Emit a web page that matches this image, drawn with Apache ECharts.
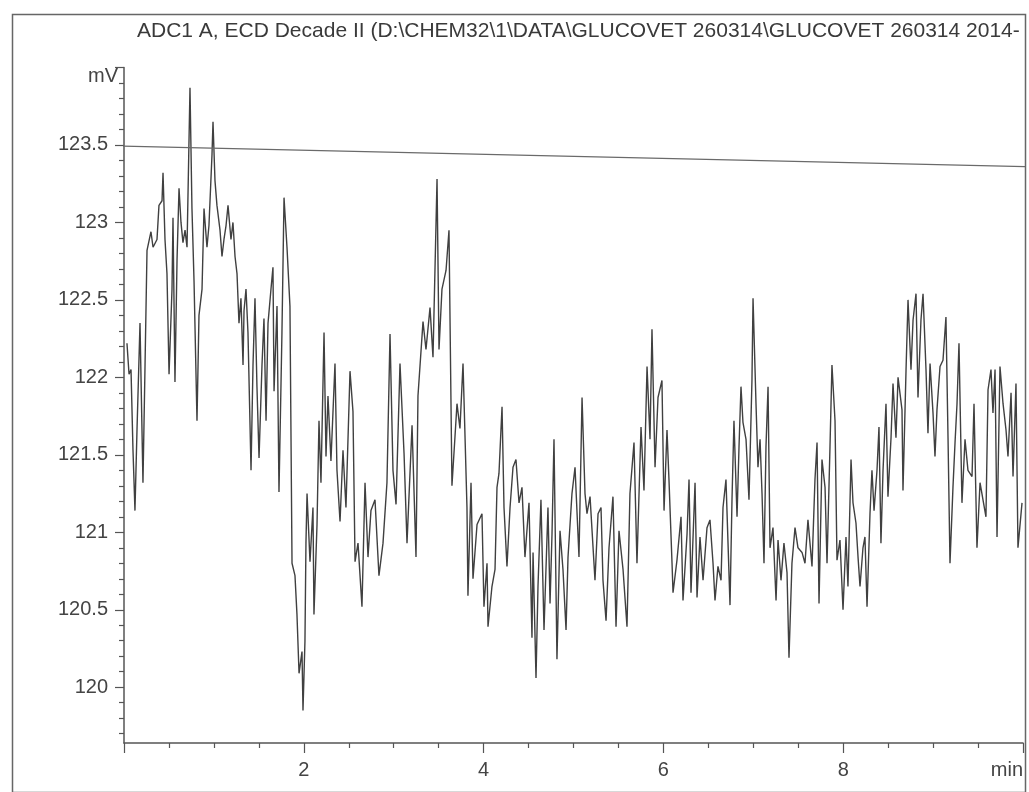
<!DOCTYPE html>
<html><head><meta charset="utf-8">
<script src="https://cdn.jsdelivr.net/npm/echarts@6/dist/echarts.min.js"></script>
<style>html,body{margin:0;padding:0;background:#fff}#c{width:1029px;height:792px}</style>
</head><body><div id="c"></div>
<script>
const titleText = 'ADC1 A, ECD Decade II (D:\\CHEM32\\1\\DATA\\GLUCOVET 260314\\GLUCOVET 260314 2014-';
const yUnit = 'mV';
const xUnit = 'min';
const yLabelValues = [120, 120.5, 121, 121.5, 122, 122.5, 123, 123.5];
const yMajorTicks = [120, 120.5, 121, 121.5, 122, 122.5, 123, 123.5, 124];
const timeMin = [0.033,0.056,0.078,0.100,0.122,0.145,0.178,0.211,0.234,0.256,0.300,0.323,0.367,0.389,0.423,0.434,0.456,0.478,0.501,0.534,0.545,0.567,0.590,0.612,0.634,0.656,0.679,0.701,0.734,0.756,0.779,0.812,0.834,0.868,0.890,0.923,0.945,0.979,0.990,1.012,1.034,1.068,1.090,1.112,1.135,1.157,1.190,1.212,1.235,1.257,1.279,1.301,1.324,1.335,1.357,1.379,1.413,1.435,1.457,1.479,1.502,1.535,1.557,1.580,1.602,1.635,1.657,1.669,1.702,1.724,1.757,1.780,1.813,1.846,1.869,1.902,1.924,1.947,1.980,1.991,
2.013,2.024,2.036,2.069,2.102,2.113,2.147,2.169,2.191,2.225,2.247,2.269,2.302,2.347,2.369,2.403,2.436,2.469,2.514,2.547,2.570,2.603,2.647,2.681,2.714,2.747,2.792,2.836,2.881,2.925,2.959,2.992,3.026,3.070,3.115,3.148,3.204,3.248,3.270,3.326,3.359,3.404,3.437,3.482,3.504,3.537,3.582,3.615,3.648,3.682,3.704,3.737,3.771,3.815,3.826,3.860,3.882,3.927,3.982,4.004,
4.038,4.049,4.093,4.127,4.149,4.171,4.205,4.227,4.260,4.294,4.327,4.360,4.394,4.427,4.460,4.505,4.538,4.550,4.583,4.605,4.638,4.672,4.716,4.739,4.761,4.783,4.816,4.850,4.883,4.917,4.939,4.983,5.017,5.061,5.095,5.128,5.150,5.184,5.239,5.273,5.306,5.328,5.362,5.395,5.439,5.473,5.506,5.551,5.595,5.628,5.673,5.706,5.751,5.784,5.818,5.851,5.873,5.907,5.940,5.984,6.007,
6.040,6.062,6.096,6.107,6.151,6.196,6.218,6.263,6.285,6.307,6.352,6.374,6.407,6.441,6.485,6.518,6.552,6.574,6.607,6.641,6.663,6.696,6.741,6.763,6.785,6.819,6.841,6.863,6.885,6.919,6.952,6.985,6.997,7.030,7.052,7.075,7.097,7.119,7.141,7.164,7.186,7.219,7.253,7.275,7.308,7.341,7.375,7.397,7.430,7.464,7.497,7.542,7.575,7.608,7.653,7.686,7.709,7.731,7.764,7.798,7.820,7.853,7.875,7.909,7.931,7.964,
7.998,8.031,8.053,8.087,8.109,8.142,8.165,8.187,8.220,8.242,8.265,8.298,8.320,8.343,8.376,8.398,8.420,8.443,8.476,8.498,8.532,8.554,8.587,8.610,8.654,8.665,8.699,8.721,8.754,8.777,8.810,8.832,8.865,8.888,8.921,8.943,8.966,8.999,9.021,9.043,9.077,9.110,9.143,9.166,9.188,9.221,9.244,9.266,9.288,9.321,9.355,9.388,9.433,9.455,9.488,9.522,9.555,9.588,9.611,9.644,9.666,9.689,9.711,9.744,9.778,9.811,9.833,9.867,9.889,9.922,9.944,9.989];
const signalMV = [122.22,122.02,122.05,121.53,121.14,121.67,122.35,121.32,122.08,122.82,122.94,122.84,122.89,123.11,123.14,123.32,122.89,122.67,122.02,122.57,123.03,121.97,122.76,123.22,123.00,122.87,122.95,122.84,123.87,123.09,122.62,121.72,122.40,122.57,123.09,122.84,122.98,123.44,123.65,123.27,123.11,122.95,122.78,122.89,122.98,123.11,122.89,123.00,122.78,122.67,122.35,122.51,122.08,122.43,122.57,122.29,121.40,122.08,122.51,121.94,121.48,122.08,122.38,121.72,122.35,122.57,122.71,121.91,122.46,121.26,122.29,123.16,122.84,122.46,120.80,120.72,120.47,120.09,120.23,119.85,
120.30,120.93,121.25,120.81,121.16,120.47,121.05,121.72,121.32,122.29,121.49,121.88,121.46,122.09,121.40,121.07,121.53,121.16,122.04,121.78,120.81,120.93,120.52,121.32,120.84,121.14,121.21,120.72,120.93,121.32,122.28,121.40,121.18,122.09,121.51,120.93,121.69,120.84,121.88,122.36,122.18,122.45,122.13,123.28,122.18,122.57,122.69,122.95,121.30,121.62,121.83,121.67,122.09,121.16,120.59,121.32,120.70,121.05,121.12,120.52,
120.80,120.39,120.65,120.76,121.29,121.38,121.81,121.16,120.78,121.16,121.42,121.47,121.19,121.29,120.84,121.19,120.32,120.87,120.06,120.65,121.21,120.37,121.16,120.54,120.99,121.60,120.18,121.01,120.76,120.37,120.84,121.25,121.42,120.84,121.87,121.25,121.12,121.23,120.69,121.12,121.16,120.69,120.43,120.90,121.23,120.39,121.01,120.76,120.39,121.25,121.58,120.80,121.68,121.27,122.07,121.60,122.31,121.42,121.87,121.98,121.14,
121.66,121.34,120.80,120.61,120.82,121.10,120.56,120.99,121.34,120.61,121.32,120.58,120.97,120.69,121.03,121.08,120.80,120.56,120.78,120.69,121.16,121.34,120.53,121.21,121.72,121.10,121.55,121.94,121.71,121.60,121.21,121.98,122.51,121.83,121.42,121.60,121.25,120.80,121.55,121.94,120.90,121.03,120.56,120.95,120.69,120.93,120.74,120.19,120.80,121.03,120.90,120.87,120.80,121.08,120.78,121.34,121.58,120.54,121.47,121.29,120.80,121.55,122.08,121.72,120.82,120.95,
120.50,120.97,120.65,121.47,121.19,121.06,120.84,120.65,120.90,120.97,120.52,121.12,121.40,121.14,121.40,121.68,120.93,121.40,121.83,121.23,121.61,121.96,121.61,122.00,121.79,121.27,122.05,122.50,122.05,122.37,122.54,121.87,122.37,122.54,122.05,121.64,122.09,121.77,121.49,121.79,122.07,122.11,122.39,121.61,120.80,121.29,121.58,121.83,122.22,121.19,121.60,121.40,121.36,121.83,120.90,121.32,121.21,121.10,121.92,122.05,121.77,122.05,120.97,122.07,121.83,121.66,121.49,121.90,121.36,121.96,120.90,121.19];
const refLineTime = [-1.379, 10.066];
const refLineMV = [123.51, 123.36];

const n = Math.min(timeMin.length, signalMV.length);
const trace = [];
for (let i = 0; i < n; i++) trace.push([timeMin[i], signalMV[i]]);
const refLine = refLineTime.map((t, i) => [t, refLineMV[i]]);
const yMinorTicks = [];
for (let k = 1197; k <= 1240; k++) { if (k % 5 !== 0) yMinorTicks.push(k / 10); }

const AX = '#555';
const FONT = 'Liberation Sans, Arial, sans-serif';
const chart = echarts.init(document.getElementById('c'), null, {renderer: 'canvas'});
chart.setOption({
  animation: false,
  backgroundColor: '#ffffff',
  title: {
    text: titleText, left: 132, top: 16,
    textStyle: {fontFamily: FONT, fontSize: 21, fontWeight: 'normal', color: '#3a3a3a'}
  },
  grid: {left: 124, right: 6, top: 67.5, bottom: 49, containLabel: false},
  xAxis: [{
    type: 'value', min: 0, max: 10, interval: 2,
    axisLine: {show: true, onZero: false, lineStyle: {color: AX, width: 1.5}},
    axisTick: {show: true, length: 10, lineStyle: {color: AX, width: 1.2}},
    minorTick: {show: true, splitNumber: 4, length: 5, lineStyle: {color: AX, width: 1.2}},
    splitLine: {show: false},
    axisLabel: {
      margin: 17, fontFamily: FONT, fontSize: 20, color: '#444',
      alignMaxLabel: 'right',
      formatter: v => v === 0 ? '' : (v === 10 ? xUnit : String(v))
    }
  }],
  yAxis: [{
    type: 'value', min: 119.64, max: 124, position: 'left',
    axisLine: {show: true, onZero: false, lineStyle: {color: AX, width: 1.5}},
    axisTick: {show: true, length: 9, customValues: yMajorTicks, lineStyle: {color: AX, width: 1.2}},
    splitLine: {show: false},
    axisLabel: {
      margin: 16, fontFamily: FONT, fontSize: 20, color: '#444',
      customValues: yLabelValues,
      formatter: v => String(v)
    }
  }, {
    type: 'value', min: 119.64, max: 124, position: 'left',
    axisLine: {show: false},
    axisTick: {show: true, length: 5, customValues: yMinorTicks, lineStyle: {color: AX, width: 1.2}},
    splitLine: {show: false},
    axisLabel: {show: false}
  }],
  series: [{
    type: 'line', data: trace, showSymbol: false, symbol: 'none',
    xAxisIndex: 0, yAxisIndex: 0,
    lineStyle: {color: '#404040', width: 1.4}
  }, {
    type: 'line', data: refLine, showSymbol: false, symbol: 'none', clip: false,
    xAxisIndex: 0, yAxisIndex: 0,
    lineStyle: {color: '#6a6a6a', width: 1.2}
  }],
  graphic: [{
    type: 'rect', left: 10, top: 12, silent: true,
    shape: {width: 1013, height: 778},
    style: {fill: 'none', stroke: '#666', lineWidth: 1.5}
  }, {
    type: 'text', left: 88, top: 66, silent: true,
    style: {text: yUnit, fontFamily: FONT, fontSize: 20, fill: '#444'}
  }]
});
</script></body></html>
